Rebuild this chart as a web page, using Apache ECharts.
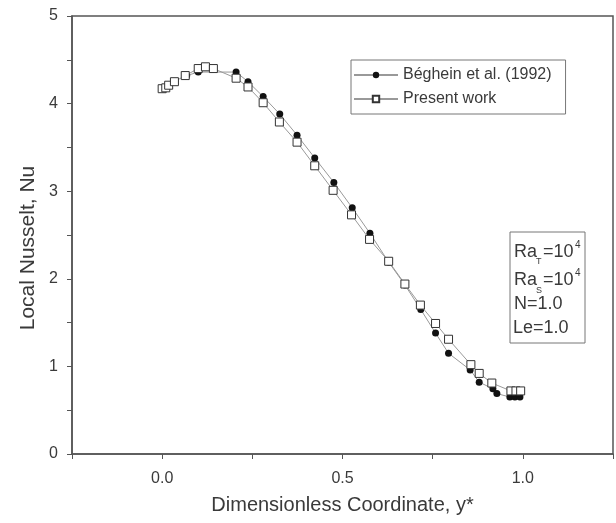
<!DOCTYPE html>
<html>
<head>
<meta charset="utf-8">
<script src="https://cdn.jsdelivr.net/npm/echarts@6/dist/echarts.min.js"></script>
<style>
  html, body { margin: 0; padding: 0; background: #fff; }
  #chart-container { width: 616px; height: 523px; }
</style>
</head>
<body>
<div id="chart-container"></div>
<script>
// Béghein et al. (1992) - filled circles
const beghX = [0.068, 0.10, 0.205, 0.238, 0.28, 0.326, 0.374, 0.423, 0.476, 0.527, 0.576, 0.628, 0.673, 0.717, 0.758, 0.794, 0.854, 0.879, 0.917, 0.928, 0.964, 0.978, 0.992];
const beghY = [4.32, 4.36, 4.36, 4.25, 4.08, 3.88, 3.64, 3.38, 3.10, 2.81, 2.52, 2.19, 1.93, 1.65, 1.38, 1.15, 0.96, 0.82, 0.745, 0.69, 0.65, 0.65, 0.65];

// Present work - open squares
const presX = [0.0, 0.01, 0.018, 0.034, 0.064, 0.10, 0.12, 0.142, 0.205, 0.238, 0.28, 0.325, 0.374, 0.423, 0.474, 0.525, 0.575, 0.628, 0.673, 0.716, 0.758, 0.794, 0.856, 0.879, 0.914, 0.967, 0.981, 0.994];
const presY = [4.17, 4.18, 4.21, 4.25, 4.32, 4.40, 4.42, 4.40, 4.29, 4.19, 4.01, 3.79, 3.56, 3.29, 3.01, 2.73, 2.45, 2.20, 1.94, 1.70, 1.49, 1.31, 1.02, 0.92, 0.81, 0.72, 0.72, 0.72];

const xLabels = ['0.0', '0.5', '1.0'];
const yLabels = ['0', '1', '2', '3', '4', '5'];

const pairs = (xs, ys) => xs.map((x, i) => [x, ys[i]]);

const axisColor = '#555';
const textColor = '#3a3a3a';
const font = 'Liberation Sans, Arial, sans-serif';

const myChart = echarts.init(document.getElementById('chart-container'));
const option = {
  animation: false,
  grid: {
    left: 72, right: 3, top: 16, bottom: 69,
    show: true, borderColor: axisColor, borderWidth: 1.5
  },
  legend: {
    orient: 'vertical',
    left: 351, top: 60,
    width: 216,
    padding: [7, 14, 7, 2],
    borderColor: '#777', borderWidth: 1,
    itemWidth: 44, itemHeight: 8, itemGap: 8, itemTextGap: 5,
    textStyle: { fontFamily: font, fontSize: 16, color: textColor },
    data: ['Béghein et al. (1992)', 'Present work']
  },
  xAxis: {
    type: 'value',
    min: -0.25, max: 1.25, interval: 0.25,
    name: 'Dimensionless Coordinate, y*',
    nameLocation: 'middle', nameGap: 41,
    nameTextStyle: { fontFamily: font, fontSize: 20, color: textColor },
    axisLine: { onZero: false, lineStyle: { color: axisColor, width: 1.5 } },
    axisTick: { inside: false, length: 5, lineStyle: { color: axisColor } },
    splitLine: { show: false },
    axisLabel: {
      margin: 17, fontFamily: font, fontSize: 16, color: textColor,
      formatter: v => {
        const i = [0, 0.5, 1].findIndex(t => Math.abs(t - v) < 1e-6);
        return i >= 0 ? xLabels[i] : '';
      }
    }
  },
  yAxis: {
    type: 'value',
    min: 0, max: 5, interval: 0.5,
    axisLine: { onZero: false, lineStyle: { color: axisColor, width: 1.5 } },
    axisTick: { inside: false, length: 5, lineStyle: { color: axisColor } },
    splitLine: { show: false },
    axisLabel: {
      margin: 14, fontFamily: font, fontSize: 16, color: textColor,
      formatter: v => (Math.abs(v - Math.round(v)) < 1e-6 ? yLabels[Math.round(v)] : '')
    }
  },
  graphic: [
    {
      type: 'text', x: 28, y: 248, rotation: Math.PI / 2,
      style: { text: 'Local Nusselt, Nu', fontFamily: font, fontSize: 21, fill: textColor, align: 'center', verticalAlign: 'middle' }
    },
    {
      type: 'rect', shape: { x: 510, y: 232, width: 75, height: 111 },
      style: { fill: 'none', stroke: '#777', lineWidth: 1 }
    },
    { type: 'text', x: 514, y: 252, style: { text: 'Ra', fontFamily: font, fontSize: 18, fill: textColor, verticalAlign: 'middle' } },
    { type: 'text', x: 536, y: 262, style: { text: 'T', fontFamily: font, fontSize: 9, fill: textColor, verticalAlign: 'middle' } },
    { type: 'text', x: 543, y: 252, style: { text: '=10', fontFamily: font, fontSize: 18, fill: textColor, verticalAlign: 'middle' } },
    { type: 'text', x: 575, y: 245, style: { text: '4', fontFamily: font, fontSize: 10, fill: textColor, verticalAlign: 'middle' } },
    { type: 'text', x: 514, y: 280, style: { text: 'Ra', fontFamily: font, fontSize: 18, fill: textColor, verticalAlign: 'middle' } },
    { type: 'text', x: 536, y: 291, style: { text: 'S', fontFamily: font, fontSize: 9, fill: textColor, verticalAlign: 'middle' } },
    { type: 'text', x: 543, y: 280, style: { text: '=10', fontFamily: font, fontSize: 18, fill: textColor, verticalAlign: 'middle' } },
    { type: 'text', x: 575, y: 273, style: { text: '4', fontFamily: font, fontSize: 10, fill: textColor, verticalAlign: 'middle' } },
    { type: 'text', x: 514, y: 304, style: { text: 'N=1.0', fontFamily: font, fontSize: 18, fill: textColor, verticalAlign: 'middle' } },
    { type: 'text', x: 513, y: 328, style: { text: 'Le=1.0', fontFamily: font, fontSize: 18, fill: textColor, verticalAlign: 'middle' } }
  ],
  series: [
    {
      name: 'Béghein et al. (1992)',
      type: 'line',
      data: pairs(beghX, beghY),
      symbol: 'circle', symbolSize: 7,
      lineStyle: { color: '#999', width: 1 },
      itemStyle: { color: '#111', borderColor: '#111', borderWidth: 0 },
      z: 2
    },
    {
      name: 'Present work',
      type: 'line',
      data: pairs(presX, presY),
      symbol: 'rect', symbolSize: 8,
      lineStyle: { color: '#999', width: 1 },
      itemStyle: { color: '#fff', borderColor: '#333', borderWidth: 1 },
      z: 3
    }
  ]
};
myChart.setOption(option);
</script>
</body>
</html>
